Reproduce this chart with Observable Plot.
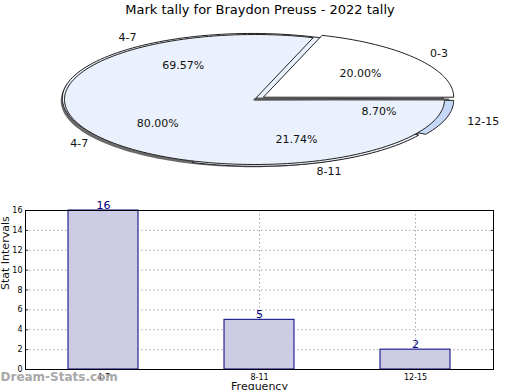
<!DOCTYPE html>
<html><head><meta charset="utf-8">
<script src="https://cdn.jsdelivr.net/npm/d3@7"></script>
<script src="https://cdn.jsdelivr.net/npm/@observablehq/plot@0.6"></script>
<style>
body{margin:0;background:#fff;font-family:"DejaVu Sans",sans-serif;}
#wrap{position:relative;width:520px;height:390px;overflow:hidden;background:#fff;}
#title{position:absolute;left:0;top:2px;width:520px;text-align:center;font-size:13px;line-height:16px;z-index:2;}
#pie{position:absolute;left:0;top:0;}
#bar{position:absolute;left:0;top:190px;}
</style></head><body>
<div id="wrap">
<div id="title">Mark tally for Braydon Preuss - 2022 tally</div>
<div id="pie"></div>
<div id="bar"></div>
</div>
<script>
// ---- data ----
const pieACats = ["0-3", "4-7"];
const pieAPct = [20, 80];
const pieBCats = ["12-15", "8-11", "4-7"];
const pieBVals = [2, 5, 16];
const barCats = ["4-7", "8-11", "12-15"];
const barVals = [16, 5, 2];
const yTicks = [0, 2, 4, 6, 8, 10, 12, 14, 16];

// ---- pie geometry ----
function arcPts(a0, a1, off, withCenter) {
  const n = Math.max(2, Math.ceil(Math.abs(a1 - a0) / 2));
  const pts = withCenter ? [{x: off[0], y: off[1]}] : [];
  for (let i = 0; i <= n; i++) {
    const t = (a0 + (a1 - a0) * i / n) * Math.PI / 180;
    pts.push({x: off[0] + Math.cos(t), y: off[1] + Math.sin(t)});
  }
  return pts;
}
function explode(mid, e) {
  const t = mid * Math.PI / 180;
  return [e * Math.cos(t), e * Math.sin(t)];
}
// pie A: counter-clockwise from east
const aExp = [0.06, 0];
let acc = 0;
const sliceA = pieACats.map((c, i) => {
  const span = pieAPct[i] / 100 * 360;
  const a0 = acc, a1 = acc + span; acc = a1;
  const mid = (a0 + a1) / 2;
  return {cat: c, pct: pieAPct[i], a0, a1, mid, off: explode(mid, aExp[i])};
});
// pie B: clockwise from east
const bTotal = d3.sum(pieBVals);
const bExp = [0.05, 0.03, 0.02];
acc = 0;
const sliceB = pieBCats.map((c, i) => {
  const span = pieBVals[i] / bTotal * 360;
  const a0 = acc, a1 = acc - span; acc = a1;
  const mid = (a0 + a1) / 2;
  return {cat: c, pct: pieBVals[i] / bTotal * 100, a0, a1, mid, off: explode(mid, bExp[i])};
});
const bFill = {"12-15": "#c6d8f7", "8-11": "#ebf1fc", "4-7": "#ebf1fc"};
const aFill = {"0-3": "#ffffff", "4-7": "#ebf1fc"};

const labelPos = (s, r) => {
  const t = s.mid * Math.PI / 180;
  return {x: s.off[0] + r * Math.cos(t), y: s.off[1] + r * Math.sin(t)};
};
const allSlices = [...sliceA, ...sliceB];
const pctLabels = allSlices.map(s => ({...labelPos(s, 0.63), t: s.pct.toFixed(2) + "%"}));
const catLabels = allSlices.map(s => ({...labelPos(s, s.cat === "12-15" ? 1.2 : 1.14), t: s.cat}));

const pieMarks = [
  Plot.line(arcPts(0, 360, [-0.012, -0.018], false), {x: "x", y: "y", stroke: "#6a6a6a", strokeWidth: 3, fill: "none", curve: "linear-closed"}),
  ...sliceB.slice().reverse().map(s =>
    Plot.line(arcPts(s.a0, s.a1, s.off, true), {x: "x", y: "y", fill: bFill[s.cat], stroke: "#222", strokeWidth: 1, curve: "linear-closed"})),
  ...sliceA.slice().reverse().map(s =>
    Plot.line(arcPts(s.a0, s.a1, s.off, true), {x: "x", y: "y", fill: aFill[s.cat], stroke: "#222", strokeWidth: 1, curve: "linear-closed"})),
  Plot.line([{x: 0, y: 0}, {x: 1.02, y: 0}], {x: "x", y: "y", stroke: "#555", strokeWidth: 2.2}),
  Plot.text(pctLabels, {x: "x", y: "y", text: "t", fontSize: 11, fill: "#111"}),
  Plot.text(catLabels, {x: "x", y: "y", text: "t", fontSize: 11, fill: "#111"})
];

const pie = Plot.plot({
  width: 520, height: 190,
  marginTop: 0, marginBottom: 0, marginLeft: 0, marginRight: 0,
  x: {domain: [-1, 1], range: [64, 444], axis: null},
  y: {domain: [-1, 1], range: [164, 34], axis: null},
  style: {fontFamily: "DejaVu Sans", background: "transparent", overflow: "visible"},
  marks: pieMarks
});
document.getElementById("pie").appendChild(pie);

// ---- bar chart ----
const bars = barCats.map((c, i) => ({cat: c, v: barVals[i]}));
const bar = Plot.plot({
  width: 520, height: 200,
  marginTop: 20, marginBottom: 21, marginLeft: 25, marginRight: 27,
  x: {domain: barCats, paddingInner: 0.55, paddingOuter: 0.275},
  y: {domain: [0, 16]},
  style: {fontFamily: "DejaVu Sans", background: "transparent", overflow: "visible"},
  marks: [
    Plot.ruleY(yTicks.filter(d => d > 0 && d < 16), {stroke: "#aaa", strokeDasharray: "1.5,2.5", strokeWidth: 1}),
    Plot.ruleX(barCats, {x: d => d, stroke: "#aaa", strokeDasharray: "1.5,2.5", strokeWidth: 1}),
    Plot.barY(bars, {x: "cat", y: "v", fill: "#ccccE4", stroke: "#000080", strokeWidth: 1}),
    Plot.text(bars, {x: "cat", y: "v", text: d => String(d.v), dy: -5, fill: "#000080", fontSize: 11}),
    Plot.axisY({ticks: yTicks, tickSize: -3, tickPadding: 6, fontSize: 8, label: null, stroke: "#333"}),
    Plot.axisY({ticks: yTicks, anchor: "right", tickSize: -3, tickFormat: () => "", label: null, stroke: "#333"}),
    Plot.axisX({tickSize: 0, tickPadding: 5, fontSize: 8, label: null}),
    Plot.frame({stroke: "#000", strokeWidth: 1}),
    Plot.text(["Dream-Stats.com"], {frameAnchor: "bottom-left", dx: -25, dy: 11, textAnchor: "start", fontSize: 12, fontWeight: 600, fill: "#a8a8a8"}),
    Plot.text(["Frequency"], {frameAnchor: "bottom", dy: 20, fontSize: 11, fill: "#111"}),
    Plot.text(["Stat Intervals"], {frameAnchor: "left", dx: -20, rotate: -90, fontSize: 11, fill: "#111"})
  ]
});
document.getElementById("bar").appendChild(bar);
</script>
</body></html>
